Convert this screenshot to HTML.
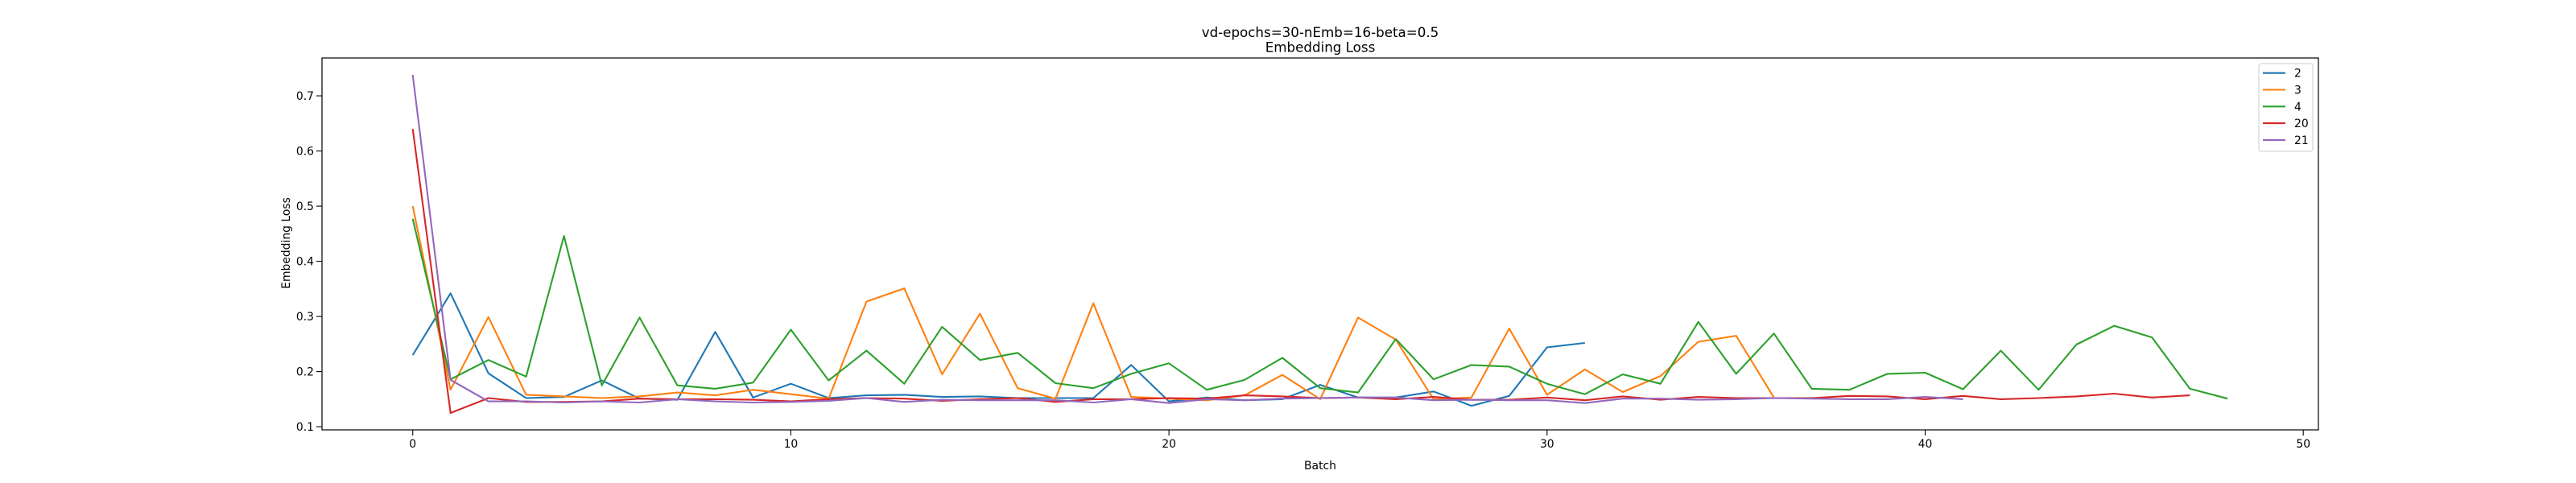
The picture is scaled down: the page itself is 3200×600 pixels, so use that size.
<!DOCTYPE html>
<html><head><meta charset="utf-8"><style>
html,body{margin:0;padding:0;background:#fff;}
svg{display:block;font-family:"DejaVu Sans","Liberation Sans",sans-serif;}
</style></head><body>
<svg id="chart" width="3200" height="600" viewBox="0 0 3200 600" xmlns="http://www.w3.org/2000/svg">
<rect width="3200" height="600" fill="#fff"/>
<text x="1640" y="46" font-size="16.7" text-anchor="middle">vd-epochs=30-nEmb=16-beta=0.5</text>
<text x="1640" y="64.5" font-size="16.7" text-anchor="middle">Embedding Loss</text>
<g id="plot"></g>
<g id="xticks"></g>
<g id="yticks"></g>
<text x="1640" y="583" font-size="13.9" text-anchor="middle">Batch</text>
<text x="0" y="0" font-size="13.9" text-anchor="middle" transform="translate(360,302) rotate(-90)">Embedding Loss</text>
<rect x="400" y="72" width="2480" height="462" fill="none" stroke="#000" stroke-width="1.2"/>
<g id="legend"></g>
</svg>
<script>
const seriesNames = ["2","3","4","20","21"];
const seriesColors = ["#1f77b4","#ff7f0e","#2ca02c","#d62728","#9467bd"];
const s2 = [0.230,0.342,0.197,0.152,0.154,0.184,0.151,0.149,0.272,0.153,0.178,0.152,0.157,0.158,0.154,0.155,0.152,0.152,0.152,0.212,0.146,0.153,0.148,0.150,0.176,0.153,0.153,0.164,0.138,0.156,0.244,0.252];
const s3 = [0.500,0.167,0.299,0.158,0.155,0.152,0.155,0.162,0.157,0.167,0.159,0.151,0.327,0.351,0.195,0.305,0.170,0.151,0.324,0.154,0.151,0.148,0.157,0.194,0.150,0.298,0.258,0.150,0.153,0.278,0.158,0.204,0.163,0.192,0.254,0.265,0.153];
const s4 = [0.477,0.186,0.221,0.191,0.446,0.175,0.298,0.175,0.169,0.180,0.276,0.184,0.238,0.178,0.281,0.221,0.234,0.179,0.170,0.196,0.215,0.167,0.185,0.225,0.170,0.162,0.259,0.186,0.212,0.209,0.178,0.159,0.195,0.178,0.290,0.196,0.269,0.169,0.167,0.196,0.198,0.168,0.238,0.167,0.249,0.283,0.262,0.169,0.151];
const s20 = [0.640,0.125,0.152,0.145,0.145,0.146,0.151,0.150,0.150,0.149,0.146,0.150,0.152,0.151,0.147,0.150,0.152,0.145,0.150,0.150,0.152,0.151,0.157,0.155,0.152,0.153,0.150,0.154,0.149,0.149,0.153,0.148,0.155,0.149,0.154,0.152,0.152,0.152,0.156,0.155,0.150,0.156,0.150,0.152,0.155,0.160,0.153,0.157];
const s21 = [0.738,0.185,0.146,0.146,0.144,0.146,0.144,0.150,0.146,0.144,0.145,0.147,0.152,0.145,0.149,0.148,0.148,0.148,0.144,0.150,0.143,0.150,0.148,0.151,0.152,0.153,0.153,0.148,0.149,0.148,0.148,0.143,0.151,0.151,0.149,0.150,0.152,0.151,0.150,0.150,0.154,0.150];
const xTicks = [0,10,20,30,40,50];
const yTicks = [0.1,0.2,0.3,0.4,0.5,0.6,0.7];

const NS = "http://www.w3.org/2000/svg";
const allSeries = [s2,s3,s4,s20,s21];
const pL=400,pR=2880,pT=72,pB=534;
let maxLen=0, ymin=Infinity, ymax=-Infinity;
allSeries.forEach(s=>{maxLen=Math.max(maxLen,s.length);s.forEach(v=>{ymin=Math.min(ymin,v);ymax=Math.max(ymax,v);});});
const xmaxD=maxLen-1, xpad=xmaxD*0.05, ypad=(ymax-ymin)*0.05;
const dx0=-xpad, dx1=xmaxD+xpad, dy0=ymin-ypad, dy1=ymax+ypad;
function sx(v){return pL+(v-dx0)/(dx1-dx0)*(pR-pL);}
function sy(v){return pB-(v-dy0)/(dy1-dy0)*(pB-pT);}
function mk(tag,attrs){const e=document.createElementNS(NS,tag);for(const k in attrs)e.setAttribute(k,attrs[k]);return e;}

const plot=document.getElementById('plot');
allSeries.forEach((s,si)=>{
  const pts=s.map((v,i)=>sx(i).toFixed(1)+","+sy(v).toFixed(1)).join(" ");
  const pl=mk('polyline',{points:pts,fill:'none',stroke:seriesColors[si],'stroke-width':'2.1','stroke-linejoin':'round'});
  
  
  plot.appendChild(pl);
});

const xg=document.getElementById('xticks');
xTicks.forEach(t=>{
  const X=sx(t);
  const ln=mk('line',{x1:X,x2:X,y1:pB,y2:pB+7,stroke:'#000','stroke-width':'1.1'});
  
  
  xg.appendChild(ln);
  const tx=mk('text',{x:X,y:pB+22,'font-size':'13.9','text-anchor':'middle'});
  tx.textContent=String(t);
  
  
  xg.appendChild(tx);
});
const yg=document.getElementById('yticks');
yTicks.forEach(t=>{
  const Y=sy(t);
  const ln=mk('line',{x1:pL-7,x2:pL,y1:Y,y2:Y,stroke:'#000','stroke-width':'1.1'});
  
  
  yg.appendChild(ln);
  const tx=mk('text',{x:pL-10,y:Y+5,'font-size':'13.9','text-anchor':'end'});
  tx.textContent=t.toFixed(1);
  
  
  yg.appendChild(tx);
});

const lg=document.getElementById('legend');
const box=mk('rect',{x:2806,y:79,width:67,height:109,rx:3,fill:'#fff','fill-opacity':'0.8',stroke:'#ccc','stroke-width':'1'});


lg.appendChild(box);
seriesNames.forEach((n,i)=>{
  const Y=90.7+i*20.8;
  const ln=mk('line',{x1:2811,x2:2839,y1:Y,y2:Y,stroke:seriesColors[i],'stroke-width':'2.1'});
  
  
  lg.appendChild(ln);
  const tx=mk('text',{x:2850,y:Y+5,'font-size':'13.9'});
  tx.textContent=n;
  
  
  lg.appendChild(tx);
});
</script>
</body></html>
